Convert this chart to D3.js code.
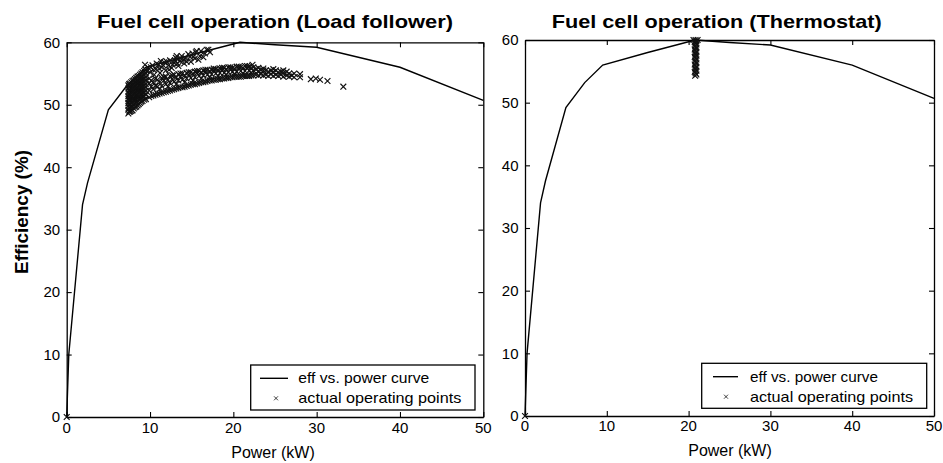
<!DOCTYPE html>
<html>
<head>
<meta charset="utf-8">
<script src="https://cdn.jsdelivr.net/npm/d3@7"></script>
<style>
  html, body { margin: 0; padding: 0; background: #fff; }
  svg { display: block; }
  text { font-family: "Liberation Sans", Arial, Helvetica, sans-serif; fill: #000; }
</style>
</head>
<body>
<svg id="chart" width="943" height="463"></svg>
<script>
// Efficiency vs. power characteristic of the fuel cell (kW, %)
const curvePower = [0, 0.25, 1.9, 2.5, 5, 7.3, 9.5, 15, 20.8, 25, 30, 40, 50];
const curveEff   = [0, 10, 34, 37.5, 49.2, 53.2, 56, 58, 60, 59.6, 59.2, 56, 50.7];

// Operating points, load-follower strategy: low-power cluster
const loadPointsCluster = [
  [0, 0],
  [7.4, 48.6], [7.4, 49.2], [7.4, 49.8], [7.4, 50.3], [7.4, 50.9], [7.4, 51.4], [7.4, 52.0], [7.4, 52.6], [7.4, 53.1],
  [7.5, 48.9], [7.5, 49.5], [7.5, 50.0], [7.5, 50.6], [7.5, 51.1], [7.5, 51.7], [7.5, 52.3], [7.5, 52.8], [7.5, 53.3],
  [7.6, 48.9], [7.6, 49.5], [7.6, 50.1], [7.6, 50.7], [7.6, 51.2], [7.6, 51.8], [7.6, 52.3], [7.6, 52.9], [7.6, 53.4],
  [7.75, 49.0], [7.75, 49.6], [7.75, 50.2], [7.75, 50.8], [7.75, 51.3], [7.75, 51.9], [7.75, 52.5], [7.75, 53.0], [7.75, 53.6],
  [7.9, 49.1], [7.9, 49.7], [7.9, 50.4], [7.9, 51.0], [7.9, 51.6], [7.9, 52.1], [7.9, 52.7], [7.9, 53.2], [7.9, 53.8],
  [8.05, 49.4], [8.05, 50.0], [8.05, 50.6], [8.05, 51.1], [8.05, 51.7], [8.05, 52.3], [8.05, 52.9], [8.05, 53.4], [8.05, 53.9],
  [8.2, 49.6], [8.2, 50.2], [8.2, 50.8], [8.2, 51.3], [8.2, 51.9], [8.2, 52.5], [8.2, 53.0], [8.2, 53.6], [8.2, 54.1],
  [8.35, 49.7], [8.35, 50.4], [8.35, 50.9], [8.35, 51.5], [8.35, 52.1], [8.35, 52.6], [8.35, 53.2], [8.35, 53.7], [8.35, 54.3],
  [8.5, 49.9], [8.5, 50.6], [8.5, 51.1], [8.5, 51.7], [8.5, 52.3], [8.5, 52.8], [8.5, 53.4], [8.5, 53.9], [8.5, 54.5],
  [8.65, 50.1], [8.65, 50.8], [8.65, 51.3], [8.65, 51.9], [8.65, 52.4], [8.65, 53.0], [8.65, 53.5], [8.65, 54.1], [8.65, 54.6],
  [8.8, 50.3], [8.8, 51.0], [8.8, 51.5], [8.8, 52.1], [8.8, 52.6], [8.8, 53.2], [8.8, 53.7], [8.8, 54.3], [8.8, 54.8],
  [8.95, 50.5], [8.95, 51.1], [8.95, 51.7], [8.95, 52.3], [8.95, 52.8], [8.95, 53.4], [8.95, 53.9], [8.95, 54.5], [8.95, 55.0],
  [9.1, 50.6], [9.1, 51.3], [9.1, 51.9], [9.1, 52.4], [9.1, 53.0], [9.1, 53.5], [9.1, 54.1], [9.1, 54.6], [9.1, 55.2],
  [9.3, 50.8], [9.3, 51.4], [9.3, 52.0], [9.3, 52.6], [9.3, 53.1], [9.3, 53.7], [9.3, 54.2], [9.3, 54.8], [9.3, 55.4],
  [9.5, 50.9], [9.5, 51.6], [9.5, 52.2], [9.5, 52.8], [9.5, 53.3], [9.5, 53.9], [9.5, 54.4], [9.5, 55.0], [9.5, 55.6]
];

// Operating points, load-follower strategy: branch close to the curve
const loadPointsUpper = [
  [9.4, 56.4], [9.6, 55.4], [9.8, 55.9], [10.0, 55.2], [10.1, 56.0], [10.3, 56.3], [10.4, 55.6],
  [10.5, 54.8], [10.7, 55.7], [10.8, 56.6], [11.0, 56.4], [11.1, 55.8], [11.2, 55.1], [11.3, 57.0],
  [11.4, 56.0], [11.6, 56.3], [11.7, 56.8], [11.9, 55.5], [12.0, 56.9], [12.2, 56.3], [12.3, 55.6],
  [12.4, 57.1], [12.6, 55.9], [12.7, 56.4], [12.9, 56.7], [13.0, 57.1], [13.1, 57.5], [13.2, 57.8],
  [13.3, 56.6], [13.4, 56.2], [13.6, 57.0], [13.7, 57.4], [13.8, 57.8], [14.0, 57.2], [14.1, 56.6],
  [14.3, 57.4], [14.4, 56.9], [14.6, 58.1], [14.8, 57.7], [14.9, 56.9], [15.1, 58.2], [15.2, 57.7],
  [15.4, 57.4], [15.5, 58.4], [15.6, 58.6], [15.8, 57.2], [16.0, 57.8], [16.1, 58.6], [16.4, 57.6],
  [16.6, 58.2], [16.8, 58.8], [17.0, 58.8], [17.2, 58.4]
];

// Operating points, load-follower strategy: lower branch up to the highest loads
const loadPointsLower = [
  [9.9, 51.2], [9.9, 52.3], [9.9, 53.4], [9.9, 54.2],
  [10.15, 51.4], [10.15, 52.9], [10.15, 53.9],
  [10.4, 51.5], [10.4, 52.5], [10.4, 53.6],
  [10.65, 51.6], [10.65, 53.1], [10.65, 54.2],
  [10.9, 51.7], [10.9, 52.9], [10.9, 54.0],
  [11.15, 51.8], [11.15, 52.5], [11.15, 53.6],
  [11.4, 51.9], [11.4, 53.0], [11.4, 54.3],
  [11.65, 52.0], [11.65, 53.9], [11.65, 54.4],
  [11.9, 52.1], [11.9, 53.3], [11.9, 54.5],
  [12.15, 52.2], [12.15, 52.9], [12.15, 54.0],
  [12.4, 52.3], [12.4, 53.5], [12.4, 54.6],
  [12.65, 52.4], [12.65, 54.1], [12.65, 54.7],
  [12.9, 52.5], [12.9, 53.7], [12.9, 54.8],
  [13.15, 52.6], [13.15, 53.3], [13.15, 54.4],
  [13.4, 52.7], [13.4, 53.9], [13.4, 54.9],
  [13.65, 52.8], [13.65, 54.5], [13.65, 55.0],
  [13.9, 52.8], [13.9, 54.0], [13.9, 55.0],
  [14.15, 52.9], [14.15, 53.6], [14.15, 54.7],
  [14.4, 53.0], [14.4, 54.2], [14.4, 55.1],
  [14.65, 53.1], [14.65, 54.8], [14.65, 55.2],
  [14.9, 53.2], [14.9, 54.3], [14.9, 55.2],
  [15.15, 53.3], [15.15, 53.9], [15.15, 55.0],
  [15.4, 53.3], [15.4, 54.4], [15.4, 55.3],
  [15.65, 53.4], [15.65, 55.1], [15.65, 55.4],
  [15.9, 53.5], [15.9, 54.6], [15.9, 55.4],
  [16.15, 53.6], [16.15, 54.2], [16.15, 55.2],
  [16.4, 53.6], [16.4, 54.7], [16.4, 55.5],
  [16.65, 53.7], [16.65, 55.3], [16.65, 55.6],
  [16.9, 53.8], [16.9, 54.8], [16.9, 55.6],
  [17.15, 53.9], [17.15, 54.4], [17.15, 55.4],
  [17.4, 53.9], [17.4, 54.9], [17.4, 55.6],
  [17.65, 54.0], [17.65, 55.5], [17.65, 55.8],
  [17.9, 54.0], [17.9, 55.0], [17.9, 55.7],
  [18.15, 54.1], [18.15, 54.6], [18.15, 55.6],
  [18.4, 54.1], [18.4, 55.1], [18.4, 55.8],
  [18.65, 54.2], [18.65, 55.6], [18.65, 55.9],
  [18.9, 54.2], [18.9, 55.1], [18.9, 55.9],
  [19.15, 54.3], [19.15, 54.8], [19.15, 55.7],
  [19.4, 54.3], [19.4, 55.2], [19.4, 56.0],
  [19.65, 54.4], [19.65, 55.7], [19.65, 56.0],
  [19.9, 54.4], [19.9, 55.3], [19.9, 55.9],
  [20.15, 54.5], [20.15, 54.9], [20.15, 55.8],
  [20.4, 54.5], [20.4, 55.3], [20.4, 56.1],
  [20.65, 54.5], [20.65, 55.8], [20.65, 56.1],
  [20.9, 54.5], [20.9, 55.4], [20.9, 56.0],
  [21.15, 54.6], [21.15, 55.0], [21.15, 55.9],
  [21.4, 54.6], [21.4, 55.4], [21.4, 56.2],
  [21.65, 54.6], [21.65, 55.9], [21.65, 56.2],
  [21.9, 54.6], [21.9, 55.5], [21.9, 56.1],
  [22.15, 54.7], [22.15, 55.1], [22.15, 55.8],
  [22.3, 56.4], [22.4, 54.7], [22.4, 55.5], [22.4, 56.0],
  [22.7, 54.8], [22.7, 55.7],
  [23.0, 54.7], [23.0, 55.4], [23.0, 55.9],
  [23.3, 54.9], [23.3, 55.6],
  [23.6, 54.7], [23.6, 55.5], [23.6, 55.8],
  [23.9, 54.8], [23.9, 55.5],
  [24.2, 54.6], [24.2, 55.3],
  [24.5, 54.9], [24.5, 55.5],
  [24.8, 54.6], [24.8, 55.2], [24.8, 55.7],
  [25.1, 54.8], [25.1, 55.5],
  [25.4, 54.6], [25.4, 55.2],
  [25.7, 54.8], [25.7, 55.3],
  [26.0, 54.5], [26.0, 55.1], [26.0, 55.5],
  [26.4, 54.7], [26.4, 55.3],
  [26.7, 54.5], [26.7, 55.0],
  [27.0, 54.7],
  [27.3, 54.4], [27.3, 55.0],
  [28.0, 54.4], [28.0, 54.9],
  [29.3, 54.1], [29.9, 54.2], [30.4, 54.0], [31.3, 53.8], [33.2, 52.9]
];

// Operating points, thermostat strategy (fixed output near 21 kW)
const thermoPoints = [
  [0, 0],
  [20.8, 54.3], [20.95, 54.5], [20.85, 54.7], [20.75, 54.9], [20.95, 55.1], [20.85, 55.3],
  [20.8, 55.5], [20.95, 55.7], [20.85, 55.9], [20.75, 56.1], [20.95, 56.3], [20.85, 56.5],
  [20.8, 56.7], [20.95, 56.9], [20.85, 57.1], [20.75, 57.3], [20.95, 57.5], [20.85, 57.7],
  [20.8, 57.9], [20.95, 58.1], [20.85, 58.3], [20.75, 58.5], [20.95, 58.7], [20.85, 58.9],
  [20.8, 59.1], [20.95, 59.3], [20.85, 59.5], [20.75, 59.7], [20.95, 59.8], [20.85, 60.0],
  [20.6, 60.0], [21.1, 60.0]
];

const xTickValues = [0, 10, 20, 30, 40, 50];
const yTickValues = [0, 10, 20, 30, 40, 50, 60];
const legendLabels = ["eff vs. power curve", "actual operating points"];
const panelTitles = ["Fuel cell operation (Load follower)", "Fuel cell operation (Thermostat)"];
const xAxisLabel = "Power (kW)";
const yAxisLabel = "Efficiency (%)";

const svg = d3.select("#chart");

const panels = [
  {
    title: panelTitles[0], titleX: 275, titleW: 356,
    left: 66.7, right: 483.3, top: 42.3, bottom: 417,
    tickBase: 433, xlabelX: 273, xlabelY: 457.5,
    points: loadPointsCluster.concat(loadPointsUpper, loadPointsLower),
    legend: { x: 250.7, y: 365, w: 224.3, h: 45, l0: 260, l1: 288, mx: 276, tx: 298.3,
              r1: 378.3, r2: 398.3, tw: [131, 163] }
  },
  {
    title: panelTitles[1], titleX: 716.7, titleW: 330,
    left: 525, right: 934, top: 40, bottom: 416,
    tickBase: 431, xlabelX: 730, xlabelY: 455.5,
    points: thermoPoints,
    legend: { x: 701.7, y: 363.3, w: 225, h: 45, l0: 713, l1: 738, mx: 726, tx: 750,
              r1: 376.7, r2: 396.7, tw: [128, 163] }
  }
];

const curve = curvePower.map((p, i) => [p, curveEff[i]]);

function drawCross(g, x, y, r, width) {
  g.append("path")
    .attr("d", `M${x - r},${y - r}L${x + r},${y + r}M${x - r},${y + r}L${x + r},${y - r}`)
    .attr("stroke", "#111").attr("stroke-width", width).attr("fill", "none");
}

panels.forEach(p => {
  const x = d3.scaleLinear().domain([0, 50]).range([p.left, p.right]);
  const y = d3.scaleLinear().domain([0, 60]).range([p.bottom, p.top]);
  const g = svg.append("g");
  const tickLen = 5;

  // inward ticks on all four sides, labels on bottom and left only
  const bottomAxis = g.append("g").attr("transform", `translate(0,${p.bottom})`)
    .call(d3.axisBottom(x).tickValues(xTickValues).tickSizeInner(-tickLen).tickSizeOuter(0).tickFormat(""));
  const topAxis = g.append("g").attr("transform", `translate(0,${p.top})`)
    .call(d3.axisTop(x).tickValues(xTickValues).tickSizeInner(-tickLen).tickSizeOuter(0).tickFormat(""));
  const leftAxis = g.append("g").attr("transform", `translate(${p.left},0)`)
    .call(d3.axisLeft(y).tickValues(yTickValues).tickSizeInner(-tickLen).tickSizeOuter(0).tickFormat(""));
  const rightAxis = g.append("g").attr("transform", `translate(${p.right},0)`)
    .call(d3.axisRight(y).tickValues(yTickValues).tickSizeInner(-tickLen).tickSizeOuter(0).tickFormat(""));
  [bottomAxis, topAxis, leftAxis, rightAxis].forEach(a => {
    a.select(".domain").attr("stroke", "#000").attr("stroke-width", 1.3);
    a.selectAll(".tick line").attr("stroke", "#000").attr("stroke-width", 1.1);
  });

  g.selectAll(".xlab").data(xTickValues).enter().append("text")
    .attr("x", d => x(d)).attr("y", p.tickBase)
    .attr("text-anchor", "middle").attr("font-size", 15).text(d => d);
  g.selectAll(".ylab").data(yTickValues).enter().append("text")
    .attr("x", p.left - 6.5).attr("y", d => y(d) + 5.3)
    .attr("text-anchor", "end").attr("font-size", 15).text(d => d);

  // efficiency curve
  g.append("path").datum(curve)
    .attr("d", d3.line().x(d => x(d[0])).y(d => y(d[1])))
    .attr("fill", "none").attr("stroke", "#000").attr("stroke-width", 1.4);

  // operating points
  const pg = g.append("g");
  p.points.forEach(d => drawCross(pg, x(d[0]), y(d[1]), 2.9, 1.15));

  // titles and axis labels
  g.append("text").attr("x", p.titleX).attr("y", 28.3)
    .attr("text-anchor", "middle").attr("font-size", 19).attr("font-weight", "bold")
    .attr("textLength", p.titleW).attr("lengthAdjust", "spacingAndGlyphs").text(p.title);
  g.append("text").attr("x", p.xlabelX).attr("y", p.xlabelY)
    .attr("text-anchor", "middle").attr("font-size", 16).text(xAxisLabel);

  // legend
  const L = p.legend;
  const lg = g.append("g");
  lg.append("rect").attr("x", L.x).attr("y", L.y).attr("width", L.w).attr("height", L.h)
    .attr("fill", "#fff").attr("stroke", "#000").attr("stroke-width", 1.3);
  lg.append("line").attr("x1", L.l0).attr("x2", L.l1).attr("y1", L.r1).attr("y2", L.r1)
    .attr("stroke", "#000").attr("stroke-width", 1.4);
  drawCross(lg, L.mx, L.r2, 2, 0.8);
  [L.r1, L.r2].forEach((ry, i) => {
    lg.append("text").attr("x", L.tx).attr("y", ry + 5).attr("font-size", 15)
      .attr("textLength", L.tw[i]).attr("lengthAdjust", "spacingAndGlyphs").text(legendLabels[i]);
  });
});

// y label on the left panel
svg.append("text")
  .attr("transform", "translate(28.3,212) rotate(-90)")
  .attr("text-anchor", "middle").attr("font-size", 18).attr("font-weight", "bold")
  .attr("textLength", 124).attr("lengthAdjust", "spacingAndGlyphs").text(yAxisLabel);
</script>
</body>
</html>
